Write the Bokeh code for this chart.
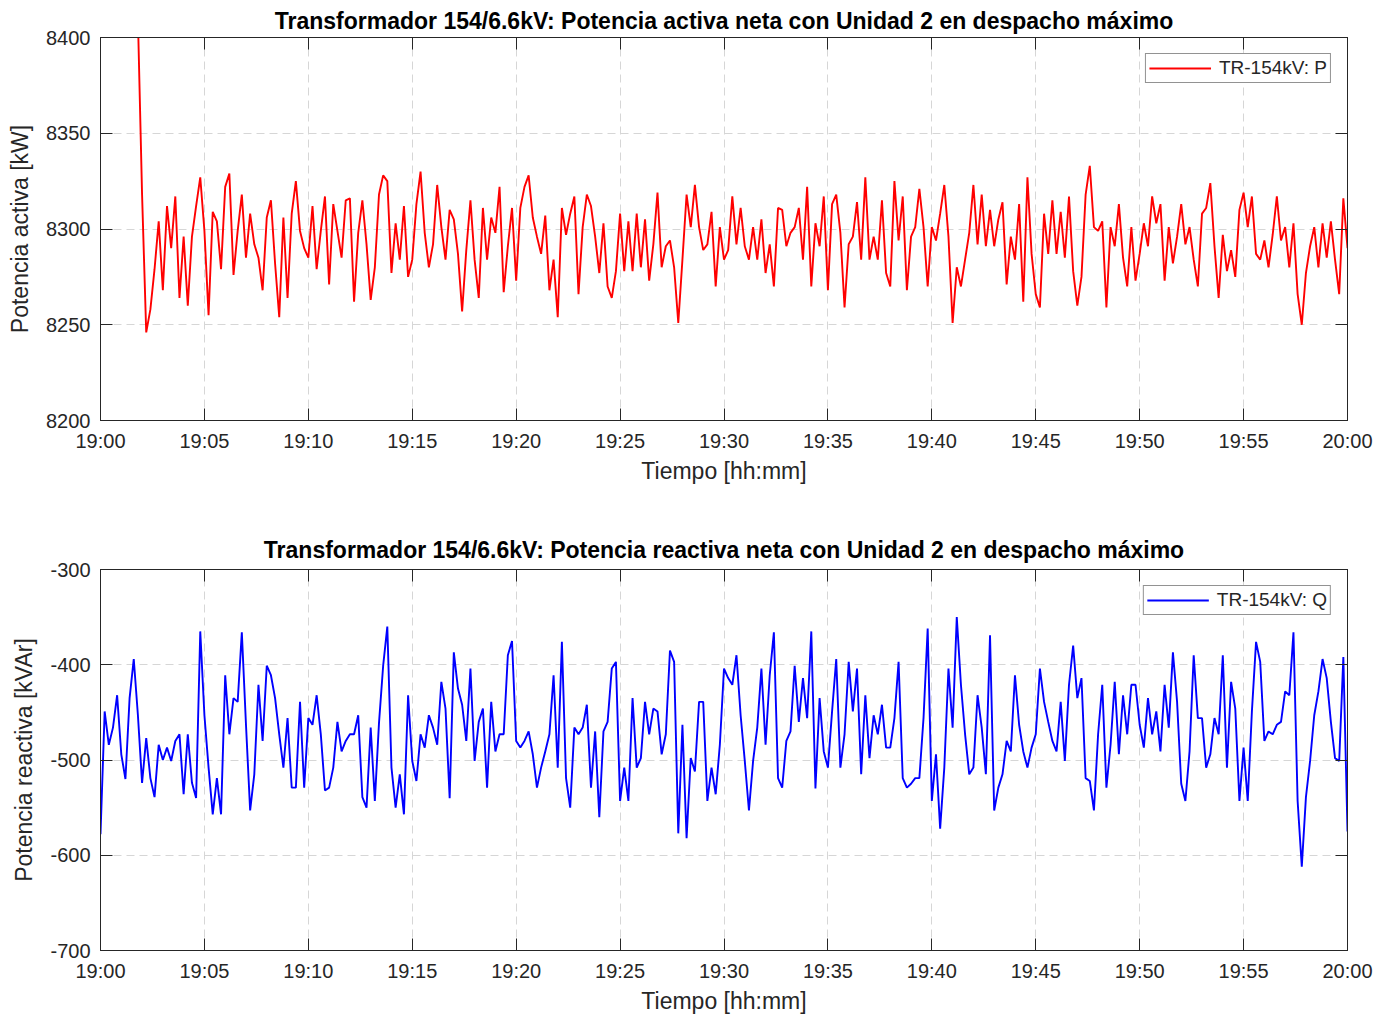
import numpy as np
from bokeh.plotting import figure
from bokeh.models import FixedTicker, LinearAxis, Range1d
from bokeh.layouts import column
from bokeh.embed import file_html
from bokeh.resources import INLINE

FONT = "Liberation Sans"
AX = "#262626"

# ---- data ----
time_ticks = [0, 5, 10, 15, 20, 25, 30, 35, 40, 45, 50, 55, 60]
time_tick_labels = ["19:00", "19:05", "19:10", "19:15", "19:20", "19:25", "19:30",
                    "19:35", "19:40", "19:45", "19:50", "19:55", "20:00"]
p_ticks = [8200, 8250, 8300, 8350, 8400]
p_tick_labels = ["8200", "8250", "8300", "8350", "8400"]
q_ticks = [-700, -600, -500, -400, -300]
q_tick_labels = ["-700", "-600", "-500", "-400", "-300"]

p_start_min = 1.8   # minutes after 19:00
q_start_min = 0.0
end_min = 60.0

p_values = [
    8410, 8318, 8246, 8258, 8279, 8304, 8268, 8312, 8290, 8317, 8264, 8296, 8260, 8296, 8312, 8327,
    8299, 8255, 8309, 8304, 8279, 8322, 8329, 8276, 8299, 8318, 8285, 8308, 8292, 8285, 8268, 8306,
    8315, 8282, 8254, 8306, 8264, 8308, 8325, 8299, 8290, 8285, 8312, 8279, 8299, 8317, 8271, 8313,
    8299, 8285, 8315, 8316, 8262, 8298, 8315, 8292, 8263, 8280, 8318, 8328, 8325, 8277, 8303, 8284,
    8312, 8275, 8284, 8313, 8330, 8298, 8280, 8292, 8323, 8301, 8284, 8310, 8305, 8287, 8257, 8289,
    8315, 8284, 8264, 8311, 8284, 8306, 8298, 8322, 8267, 8291, 8311, 8273, 8311, 8322, 8328, 8306,
    8296, 8287, 8307, 8268, 8284, 8254, 8311, 8297, 8308, 8317, 8266, 8301, 8318, 8312, 8296, 8277,
    8303, 8270, 8264, 8278, 8308, 8278, 8304, 8278, 8308, 8280, 8305, 8273, 8292, 8319, 8280, 8291,
    8294, 8280, 8251, 8284, 8318, 8301, 8323, 8301, 8289, 8292, 8309, 8270, 8301, 8284, 8289, 8317,
    8292, 8311, 8291, 8284, 8301, 8284, 8305, 8277, 8292, 8270, 8311, 8310, 8291, 8298, 8301, 8311,
    8284, 8322, 8270, 8303, 8291, 8317, 8268, 8313, 8318, 8298, 8259, 8292, 8296, 8314, 8284, 8327,
    8284, 8296, 8284, 8315, 8277, 8270, 8325, 8294, 8317, 8268, 8296, 8301, 8321, 8301, 8270, 8301,
    8294, 8308, 8323, 8296, 8251, 8280, 8270, 8284, 8298, 8323, 8292, 8318, 8291, 8310, 8291, 8305,
    8314, 8271, 8296, 8284, 8313, 8262, 8327, 8287, 8266, 8259, 8308, 8287, 8315, 8287, 8309, 8285,
    8317, 8278, 8260, 8275, 8318, 8333, 8301, 8299, 8304, 8259, 8301, 8291, 8313, 8285, 8270, 8301,
    8273, 8287, 8303, 8291, 8317, 8303, 8313, 8273, 8301, 8282, 8296, 8313, 8292, 8301, 8284, 8270,
    8308, 8311, 8324, 8291, 8264, 8297, 8278, 8289, 8275, 8310, 8319, 8301, 8317, 8287, 8284, 8294,
    8280, 8297, 8317, 8294, 8301, 8280, 8303, 8266, 8250, 8277, 8291, 8301, 8280, 8303, 8285, 8304,
    8284, 8266, 8316, 8290,
]

q_values = [
    -578, -449, -484, -466, -432, -494, -520, -435, -394, -453, -524, -477, -519, -539, -484, -500,
    -487, -501, -480, -473, -536, -473, -524, -540, -365, -453, -508, -557, -519, -557, -411, -473,
    -435, -439, -366, -463, -553, -515, -421, -480, -401, -411, -435, -473, -508, -456, -529, -529,
    -439, -529, -456, -463, -432, -473, -532, -529, -508, -460, -491, -480, -473, -473, -453, -539,
    -550, -466, -543, -461, -401, -360, -508, -550, -515, -557, -432, -501, -522, -473, -487, -453,
    -466, -484, -418, -446, -540, -387, -425, -442, -480, -404, -501, -460, -446, -529, -439, -491,
    -473, -473, -390, -375, -480, -487, -480, -470, -494, -529, -508, -491, -473, -411, -508, -376,
    -519, -550, -466, -473, -466, -442, -529, -470, -560, -470, -460, -404, -397, -543, -508, -543,
    -435, -508, -498, -439, -473, -446, -449, -494, -473, -385, -397, -577, -463, -582, -498, -512,
    -439, -439, -543, -508, -536, -484, -404, -414, -421, -390, -453, -501, -553, -501, -466, -404,
    -484, -411, -366, -519, -529, -480, -470, -401, -460, -414, -456, -365, -530, -435, -491, -508,
    -449, -394, -508, -473, -397, -449, -404, -515, -432, -498, -453, -473, -442, -487, -487, -456,
    -397, -519, -529, -525, -519, -519, -456, -362, -543, -494, -572, -508, -404, -466, -350, -421,
    -473, -515, -508, -432, -466, -515, -369, -553, -529, -515, -480, -491, -411, -463, -491, -508,
    -487, -473, -404, -439, -460, -480, -491, -439, -501, -421, -380, -435, -414, -519, -522, -553,
    -473, -421, -529, -484, -418, -494, -432, -473, -421, -421, -463, -487, -435, -473, -449, -491,
    -421, -466, -387, -439, -525, -543, -491, -390, -456, -456, -508, -494, -456, -473, -390, -508,
    -418, -446, -543, -487, -543, -449, -376, -397, -480, -470, -473, -463, -460, -428, -432, -366,
    -543, -612, -539, -501, -453, -428, -394, -414, -460, -498, -501, -392, -575,
]

p_time = np.linspace(p_start_min, end_min, len(p_values))
q_time = np.linspace(q_start_min, end_min, len(q_values))
x_overrides = {t: lab for t, lab in zip(time_ticks, time_tick_labels)}


def style_axis(ax, labels=True):
    ax.axis_line_color = AX
    ax.axis_line_width = 1
    ax.major_tick_line_color = AX
    ax.major_tick_in = 12
    ax.major_tick_out = 0
    ax.minor_tick_in = 0
    ax.minor_tick_out = 0
    ax.major_label_text_font = FONT
    if labels:
        ax.major_label_text_color = AX
        ax.major_label_text_font_size = "20px"
        ax.major_label_standoff = 10
    else:
        ax.major_label_text_color = None
        ax.major_label_text_font_size = "1px"
        ax.major_label_standoff = 0
    ax.axis_label_text_font = FONT
    ax.axis_label_text_font_size = "23px"
    ax.axis_label_text_font_style = "normal"
    ax.axis_label_text_color = AX


def make_fig(title, ylabel, yticks, ylabels, x, y, color, legend, height, btop, bbottom, tstand):
    p = figure(width=1375, height=height, output_backend="svg", toolbar_location=None,
               x_range=Range1d(0, 60), y_range=Range1d(yticks[0], yticks[-1]),
               min_border_left=100, min_border_right=28,
               min_border_top=btop, min_border_bottom=bbottom)
    p.background_fill_color = "white"
    p.border_fill_color = "white"
    p.outline_line_color = AX
    p.title.text = title
    p.title.align = "center"
    p.title.text_font = FONT
    p.title.text_font_size = "23px"
    p.title.text_font_style = "bold"
    p.title.text_color = "black"
    p.title.standoff = tstand

    xt = FixedTicker(ticks=time_ticks)
    yt = FixedTicker(ticks=yticks)
    p.xaxis.ticker = xt
    p.xaxis.major_label_overrides = x_overrides
    p.xaxis.axis_label = "Tiempo [hh:mm]"
    p.yaxis.ticker = yt
    p.yaxis.major_label_overrides = {t: lab for t, lab in zip(yticks, ylabels)}
    p.yaxis.axis_label = ylabel
    for ax in p.xaxis + p.yaxis:
        style_axis(ax)
    p.xaxis.major_label_standoff = 9
    p.xaxis.axis_label_standoff = 3
    p.yaxis.axis_label_standoff = 10

    top = LinearAxis(ticker=FixedTicker(ticks=time_ticks))
    style_axis(top, labels=False)
    p.add_layout(top, "above")
    right = LinearAxis(ticker=FixedTicker(ticks=yticks))
    style_axis(right, labels=False)
    p.add_layout(right, "right")

    p.xgrid.ticker = xt
    p.ygrid.ticker = yt
    for g in (p.xgrid, p.ygrid):
        g.grid_line_color = "#d6d6d6"
        g.grid_line_dash = "8 5"
        g.grid_line_width = 1

    p.line(x, y, line_color=color, line_width=1.9, legend_label=legend)
    lg = p.legend[0]
    lg.location = "top_right"
    lg.margin = 16
    lg.padding = 3
    lg.spacing = 0
    lg.glyph_width = 62
    lg.glyph_height = 18
    lg.label_height = 18
    lg.label_standoff = 8
    lg.label_text_font = FONT
    lg.label_text_font_size = "19px"
    lg.label_text_color = AX
    lg.border_line_color = AX
    lg.border_line_width = 1
    lg.background_fill_color = "white"
    lg.background_fill_alpha = 1
    return p


p1 = make_fig("Transformador 154/6.6kV: Potencia activa neta con Unidad 2 en despacho máximo",
              "Potencia activa [kW]", p_ticks, p_tick_labels, p_time, p_values, "#ff0000",
              "TR-154kV: P", 494, 37, 74, 8)
p2 = make_fig("Transformador 154/6.6kV: Potencia reactiva neta con Unidad 2 en despacho máximo",
              "Potencia reactiva [kVAr]", q_ticks, q_tick_labels, q_time, q_values, "#0000ff",
              "TR-154kV: Q", 523, 75, 67, 14)

layout = column(p1, p2, spacing=0)
open("out.html", "w").write(file_html(layout, INLINE))
